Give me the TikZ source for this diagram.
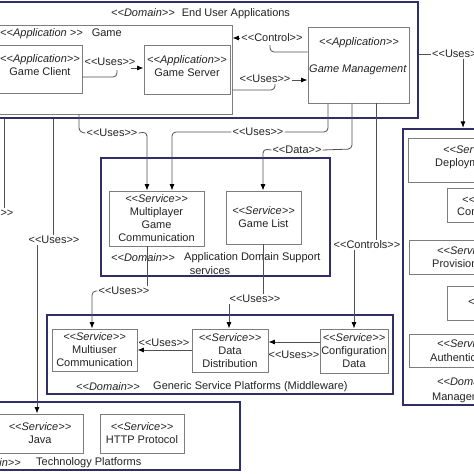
\documentclass[tikz,border=0pt]{standalone}
\usepackage{fontspec}
\setmainfont{Liberation Sans}
\usetikzlibrary{arrows.meta}
\definecolor{navy}{RGB}{48,46,102}
\definecolor{boxgray}{RGB}{125,125,125}
\definecolor{linegray}{RGB}{80,80,80}
\definecolor{txtc}{RGB}{35,35,35}
\newcommand{\sL}{<\kern0pt<}
\newcommand{\sR}{>\kern0pt>}
\newcommand{\st}[1]{\textit{\sL#1\sR}}
\newcommand{\mkbox}[7]{\node[#6, minimum width={#4-(#2)}, minimum height={#5-(#3)}] (#1) at ({(#2+#4)/2},{(#3+#5)/2}) {#7};}
\begin{document}
\begin{tikzpicture}[x=1pt,y=-1pt,
  font=\fontsize{11}{13}\selectfont, text=txtc,
  dombox/.style={draw=navy, line width=2.3pt},
  grpbox/.style={draw=boxgray, line width=0.9pt},
  svc/.style={draw=boxgray, line width=0.9pt, fill=white, align=center, inner sep=1pt},
  lbl/.style={inner sep=1pt},
  conn/.style={draw=linegray, line width=0.8pt, rounded corners=4pt},
  arr/.style={conn, -{Latex[length=6.5pt,width=5pt,color=black]}}]
\useasboundingbox (0,0) rectangle (474,474);
\clip (0,0) rectangle (474,474);
\fill[white] (0,0) rectangle (474,474);

% containers and boxes
\mkbox{eua}{-3}{2}{418}{118}{dombox}{}
\mkbox{game}{-3}{25}{232}{114}{grpbox}{}
\mkbox{gc}{-2}{45}{82}{93}{svc}{}
\mkbox{gs}{144}{45}{230}{94}{svc}{}
\mkbox{gm}{308}{27}{409}{103}{svc}{}
\mkbox{ads}{101}{158}{330}{276}{dombox}{}
\mkbox{mgc}{109}{191}{204}{246}{svc}{\st{Service}\\Multiplayer\\Game\\Communication}
\mkbox{gl}{226}{191}{301}{244}{svc}{\st{Service}\\Game List}
\mkbox{gsp}{47}{315}{393}{394}{dombox}{}
\mkbox{muc}{52}{329}{137}{371}{svc}{\st{Service}\\Multiuser\\Communication}
\mkbox{dd}{192}{329}{268}{372}{svc}{\st{Service}\\Data\\Distribution}
\mkbox{cfg}{320}{329}{388}{373}{svc}{\st{Service}\\Configuration\\Data}
\mkbox{tech}{-3}{402}{240}{470}{dombox}{}
\mkbox{java}{-3}{414}{83}{453}{svc}{\st{Service}\\Java}
\mkbox{http}{100}{414}{184}{453}{svc}{\st{Service}\\HTTP Protocol}
\mkbox{mgmt}{403}{129}{495}{405}{dombox}{}
\mkbox{dep}{408}{138}{500}{182}{svc}{}
\mkbox{cb}{447}{188}{500}{222}{svc}{}
\mkbox{prov}{409}{240}{500}{274}{svc}{}
\mkbox{fb}{447}{286}{500}{320}{svc}{}
\mkbox{auth}{409}{334}{500}{367}{svc}{}

% texts
\node[lbl,anchor=west] (euat) at (110,14) {\st{Domain}\hspace{7pt}End User Applications};
\node[lbl,anchor=west] (gamet) at (-1,34) {\textit{\sL Application \sR}\hspace{9pt}Game};
\node[lbl,align=center] (gct) at (40,65.5) {\st{Application}\\Game Client};
\node[lbl,align=center] (gst) at (187,66.5) {\st{Application}\\Game Server};
\node[lbl] (gmt1) at (359,43) {\st{Application}};
\node[lbl] (gmt2) at (358,70) {\textit{Game Management}};
\node[lbl,anchor=west] (adst1) at (110,258) {\st{Domain}};
\node[lbl,anchor=west] (adst2) at (183,258) {Application Domain Support};
\node[lbl] (adst3) at (210,271) {services};
\node[lbl,anchor=west] (gspt1) at (75,387) {\st{Domain}};
\node[lbl,anchor=west] (gspt2) at (152,387) {Generic Service Platforms (Middleware)};
\node[lbl,anchor=east] (techt1) at (22,463) {\st{Domain}};
\node[lbl,anchor=west] (techt2) at (35,463) {Technology Platforms};
\node[lbl,anchor=west] (dept1) at (442,150) {\st{Service}};
\node[lbl,anchor=west] (dept2) at (434,164) {Deployment};
\node[lbl,anchor=west] (cbt1) at (461,200) {\st{Service}};
\node[lbl,anchor=west] (cbt2) at (456,212) {Content};
\node[lbl,anchor=west] (provt1) at (436,251) {\st{Service}};
\node[lbl,anchor=west] (provt2) at (431,265) {Provisioning};
\node[lbl,anchor=west] (fbt1) at (467,302) {\st{Service}};
\node[lbl,anchor=west] (autht1) at (436,344) {\st{Service}};
\node[lbl,anchor=west] (autht2) at (429,358) {Authentication};
\node[lbl,anchor=west] (mgmtt1) at (436,382) {\st{Domain}};
\node[lbl,anchor=west] (mgmtt2) at (431,398) {Management};

% connector labels
\node[lbl] (ucs) at (110,62) {\sL Uses\sR};
\node[lbl] (uctl) at (272,38) {\sL Control\sR};
\node[lbl] (ugm) at (265,79) {\sL Uses\sR};
\node[lbl,anchor=west] (uright) at (431,54) {\sL Uses\sR};
\node[lbl] (u2) at (258,132) {\sL Uses\sR};
\node[lbl] (u3) at (112,133) {\sL Uses\sR};
\node[lbl] (ud) at (297,150) {\sL Data\sR};
\node[lbl] (uc) at (367,245) {\sL Controls\sR};
\node[lbl] (uu1) at (124,291) {\sL Uses\sR};
\node[lbl] (uu2) at (255,299) {\sL Uses\sR};
\node[lbl] (udm) at (164,343) {\sL Uses\sR};
\node[lbl] (ucd) at (294,355) {\sL Uses\sR};
\node[lbl] (uL1) at (-12,213) {\sL Uses\sR};
\node[lbl] (uL2) at (54,240) {\sL Uses\sR};

% connectors
\draw[conn] (gc.east |- 0,77) -- (117,77) -- (117,70);
\draw[arr] (131,68) -- (gs.west |- 0,68);

\draw[conn] (gm.west |- 0,52) -- (270,52) -- (270,45);
\draw[arr] (uctl.west |- 0,38) -- (game.east |- 0,38);

\draw[conn] (game.east |- 0,90) -- (275,90) -- (275,84);
\draw[arr] (ugm.east |- 0,80) -- (gm.west |- 0,80);

\draw[conn] (eua.east |- 0,54) -- (uright.west);
\draw[arr] (uright.south -| 463,0) -- (mgmt.north -| 463,0);

\draw[conn] (gm.south -| 328,0) -- (328,132) -- (u2.east);
\draw[arr] (u2.west) -- (172,132) -- (mgc.north -| 172,0);

\draw[conn] (game.south -| 79,0) -- (79,132) -- (u3.west);
\draw[arr] (u3.east) -- (147,132) -- (mgc.north -| 147,0);

\draw[conn] (gm.south -| 352,0) -- (352,149) -- (ud.east);
\draw[arr] (ud.west) -- (263,149) -- (gl.north -| 263,0);

\draw[conn] (gm.south -| 376,0) -- (uc.north -| 376,0);
\draw[arr] (uc.south -| 354,0) -- (cfg.north -| 354,0);

\draw[conn] (mgc.south -| 147,0) -- (uu1.north -| 147,0);
\draw[arr] (uu1.west) -- (92,291) -- (muc.north -| 92,0);

\draw[conn] (gl.south -| 263,0) -- (uu2.north -| 263,0);
\draw[arr] (uu2.south -| 229,0) -- (dd.north -| 229,0);

\draw[arr] (dd.west |- 0,350) -- (muc.east |- 0,350);
\draw[arr] (cfg.west |- 0,342) -- (dd.east |- 0,342);

\draw[conn] (eua.south -| 4,0) -- (uL1.north -| 4,0);
\draw[conn] (eua.south -| 53,0) -- (uL2.north -| 53,0);
\draw[arr] (uL2.south -| 37,0) -- (java.north -| 37,0);
\end{tikzpicture}
\end{document}
